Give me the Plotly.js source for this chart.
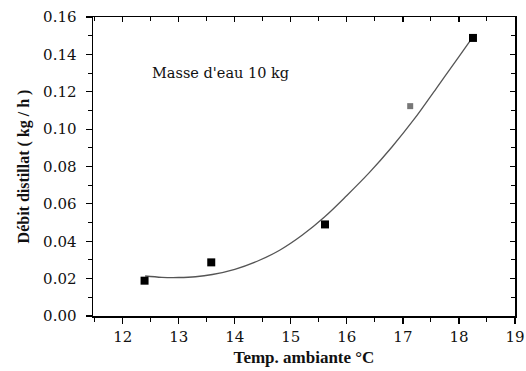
<!DOCTYPE html>
<html>
<head>
<meta charset="utf-8">
<script src="https://cdn.plot.ly/plotly-3.0.1.min.js"></script>
<style>html,body{margin:0;padding:0;background:#fff;}#chart{width:526px;height:371px;}</style>
</head>
<body>
<div id="chart"></div>
<script>
// Measured points
const tempAmbiante = [12.39, 13.58, 15.61, 17.13, 18.25];
const debitDistillat = [0.0189, 0.0287, 0.0490, 0.1123, 0.1488];

// Fitted curve
const fitTemp = [12.4, 12.7, 13.0, 13.3, 13.6, 14.0, 14.4, 14.8, 15.2, 15.6, 16.0, 16.4, 16.8, 17.2, 17.6, 18.0, 18.23];
const fitDebit = [0.0214, 0.0207, 0.0206, 0.0210, 0.0222, 0.0250, 0.0293, 0.0352, 0.0432, 0.0530, 0.0645, 0.0767, 0.0903, 0.1053, 0.1220, 0.1388, 0.1485];

const xTickVals = [12, 13, 14, 15, 16, 17, 18, 19];
const yTickVals = [0, 0.02, 0.04, 0.06, 0.08, 0.10, 0.12, 0.14, 0.16];

const annotationText = "Masse d'eau 10 kg";
const xTitle = "Temp. ambiante °C";
const yTitle = "Débit distillat ( kg / h )";

const serifTitle = "Liberation Serif";
const serifTick = "DejaVu Serif";
const xr = [11.47, 19];
const yr = [0, 0.16];

const traces = [
  {
    x: fitTemp, y: fitDebit, type: 'scatter', mode: 'lines',
    line: {color: '#555555', width: 1.3, shape: 'spline'},
    hoverinfo: 'skip', showlegend: false
  },
  {
    x: tempAmbiante, y: debitDistillat, type: 'scatter', mode: 'markers',
    marker: {symbol: 'square', size: [8, 8, 8, 6, 8], opacity: 1,
             color: ['#000', '#000', '#000', '#777', '#000'], line: {width: 0}},
    showlegend: false
  },
  { x: [null], y: [null], xaxis: 'x2', yaxis: 'y2', showlegend: false, hoverinfo: 'skip' }
];

const baseAxis = {
  showgrid: false, zeroline: false, showline: true, linecolor: '#000', linewidth: 1.5,
  tickcolor: '#000', tickwidth: 1.2
};

const layout = {
  width: 526, height: 371,
  margin: {l: 93, r: 11, t: 17, b: 55},
  paper_bgcolor: '#fff', plot_bgcolor: '#fff',
  showlegend: false,
  font: {family: serifTick, color: '#111'},
  xaxis: Object.assign({}, baseAxis, {
    range: xr, tickvals: xTickVals, ticktext: xTickVals.map(String),
    ticks: 'outside', ticklen: 6,
    minor: {dtick: 0.5, tick0: 11.5, ticks: 'outside', ticklen: 4, tickcolor: '#000', tickwidth: 1},
    tickfont: {family: serifTick, size: 15, color: '#111'},
    title: {text: '<b>' + xTitle + '</b>', font: {family: serifTitle, size: 17, color: '#111'}, standoff: 6}
  }),
  yaxis: Object.assign({}, baseAxis, {
    range: yr, tickvals: yTickVals, ticktext: yTickVals.map(v => v.toFixed(2)),
    ticks: 'outside', ticklen: 6, ticklabelstandoff: 6,
    minor: {dtick: 0.01, tick0: 0, ticks: 'outside', ticklen: 4, tickcolor: '#000', tickwidth: 1},
    tickfont: {family: serifTick, size: 15, color: '#111'},
    title: {text: '<b>' + yTitle + '</b>', font: {family: serifTitle, size: 16, color: '#111'}, standoff: 9}
  }),
  xaxis2: Object.assign({}, baseAxis, {
    overlaying: 'x', side: 'top', range: xr, tickvals: xTickVals,
    showticklabels: false, ticks: 'inside', ticklen: 5,
    minor: {dtick: 0.5, tick0: 11.5, ticks: 'inside', ticklen: 4, tickcolor: '#000', tickwidth: 1}
  }),
  yaxis2: Object.assign({}, baseAxis, {
    overlaying: 'y', side: 'right', range: yr, tickvals: yTickVals,
    showticklabels: false, ticks: 'inside', ticklen: 5,
    minor: {dtick: 0.01, tick0: 0, ticks: 'inside', ticklen: 4, tickcolor: '#000', tickwidth: 1}
  }),
  annotations: [{
    x: 13.75, y: 0.130, xref: 'x', yref: 'y', text: annotationText, showarrow: false,
    font: {family: serifTick, size: 14.5, color: '#111'}
  }]
};

Plotly.newPlot('chart', traces, layout, {staticPlot: true, displayModeBar: false});
</script>
</body>
</html>
